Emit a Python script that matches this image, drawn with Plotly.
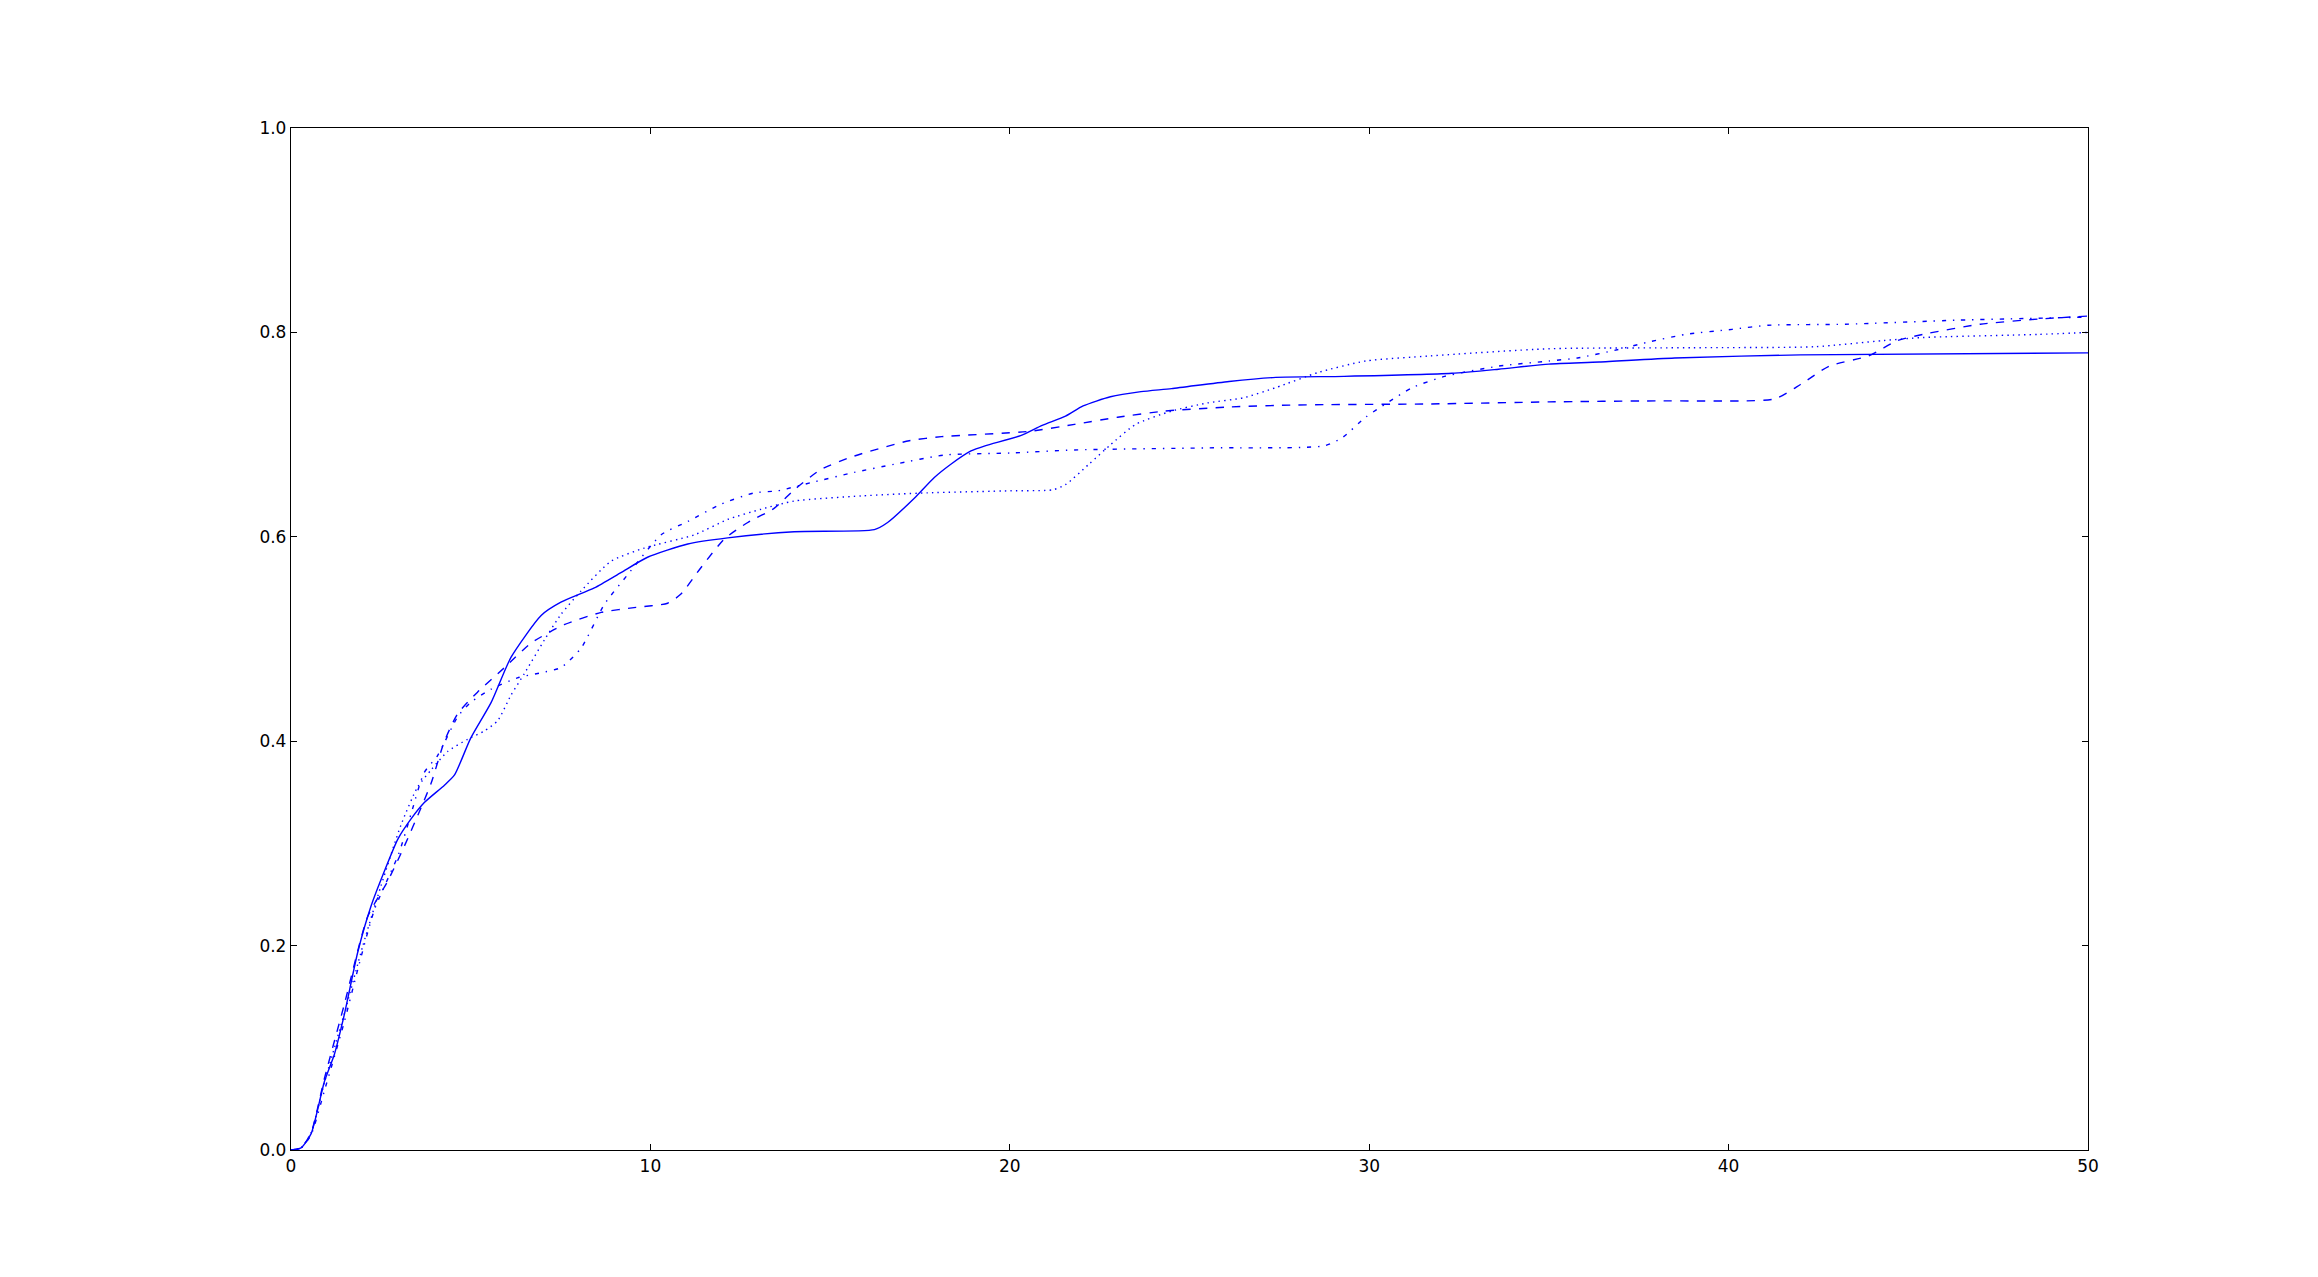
import plotly.graph_objects as go

# Series 1 (solid)
t_solid = [0, 0.28, 0.56, 0.93, 1.21, 1.48, 1.86, 2.23, 2.6, 2.97, 3.34, 3.71, 4.27, 4.55, 5.0, 5.57, 6.12,
           6.96, 7.51, 8.44, 9.18, 9.92, 11.04, 12.15, 14.0, 16.23, 16.6, 17.35, 17.9, 18.36, 18.92, 19.31,
           20.3, 20.9, 21.55, 22.04, 22.8, 23.65, 24.5, 26.1, 27.4, 29.3, 32.3, 33.6, 35.0, 36.4, 38.5,
           42.0, 50.0]
v_solid = [0, 0.002, 0.016, 0.067, 0.094, 0.132, 0.194, 0.239, 0.273, 0.304, 0.324, 0.340, 0.357, 0.367,
           0.403, 0.438, 0.482, 0.523, 0.536, 0.550, 0.565, 0.580, 0.593, 0.599, 0.605, 0.607, 0.614, 0.638,
           0.658, 0.671, 0.684, 0.689, 0.699, 0.709, 0.718, 0.728, 0.737, 0.742, 0.745, 0.752, 0.756, 0.757,
           0.760, 0.764, 0.769, 0.771, 0.775, 0.778, 0.780]

# Series 2 (dashed)
t_dashed = [0, 0.28, 0.56, 0.93, 1.48, 2.13, 2.69, 3.15, 3.62, 3.9, 4.27, 4.64, 5.19, 5.94, 6.68, 7.6, 8.63,
            9.6, 10.48, 10.85, 11.41, 12.06, 12.71, 13.45, 14.0, 14.75, 15.67, 17.2, 18.1, 20.5, 21.8, 23.0,
            24.3, 26.1, 28.0, 31.7, 35.0, 38.0, 40.5, 41.3, 42.0, 42.8, 43.9, 44.7, 45.4, 47.0, 48.6, 50.0]
v_dashed = [0, 0.002, 0.017, 0.07, 0.142, 0.228, 0.263, 0.297, 0.335, 0.359, 0.400, 0.427, 0.448, 0.472,
            0.496, 0.514, 0.526, 0.531, 0.535, 0.544, 0.570, 0.598, 0.614, 0.628, 0.646, 0.666, 0.679, 0.694,
            0.698, 0.703, 0.710, 0.717, 0.723, 0.727, 0.729, 0.730, 0.732, 0.733, 0.733, 0.735, 0.749, 0.767,
            0.777, 0.792, 0.798, 0.808, 0.813, 0.816]

# Series 3 (dotted)
t_dotted = [0, 0.28, 0.56, 0.93, 1.48, 2.0, 2.5, 3.06, 3.52, 3.9, 4.36, 4.92, 5.38, 5.75, 6.12, 6.49, 7.05,
            7.51, 8.07, 8.9, 9.83, 11.23, 12.15, 13.08, 14.0, 15.86, 17.71, 20.03, 21.2, 21.55, 22.2, 22.8,
            23.5, 24.5, 25.5, 26.5, 27.4, 28.6, 29.9, 31.7, 35.0, 39.0, 42.4, 44.3, 45.4, 48.6, 50.0]
v_dotted = [0, 0.002, 0.017, 0.066, 0.133, 0.2, 0.258, 0.318, 0.355, 0.372, 0.390, 0.402, 0.410, 0.420,
            0.445, 0.466, 0.499, 0.524, 0.547, 0.576, 0.589, 0.602, 0.617, 0.627, 0.635, 0.640, 0.643, 0.645,
            0.646, 0.651, 0.671, 0.690, 0.710, 0.723, 0.731, 0.736, 0.746, 0.761, 0.772, 0.777, 0.784, 0.785,
            0.786, 0.792, 0.795, 0.798, 0.800]

# Series 4 (dash-dot)
t_dashdot = [0, 0.28, 0.56, 0.93, 1.48, 1.86, 2.32, 3.0, 3.35, 3.7, 4.08, 4.64, 5.0, 5.57, 6.3, 6.96, 7.51,
             8.07, 8.72, 9.37, 10.3, 11.04, 11.97, 12.89, 13.54, 14.47, 15.67, 16.79, 18.18, 20.03, 21.8, 25.5,
             28.75, 29.25, 29.9, 30.5, 31.2, 32.1, 33.6, 35.0, 35.8, 36.9, 37.7, 38.8, 40.1, 41.1, 43.25,
             46.4, 50.0]
v_dashdot = [0, 0.002, 0.015, 0.058, 0.125, 0.177, 0.235, 0.29, 0.33, 0.369, 0.386, 0.424, 0.438, 0.451,
             0.462, 0.467, 0.472, 0.491, 0.534, 0.563, 0.602, 0.615, 0.632, 0.643, 0.645, 0.653, 0.663, 0.671,
             0.680, 0.682, 0.685, 0.687, 0.689, 0.697, 0.717, 0.731, 0.746, 0.757, 0.767, 0.772, 0.775, 0.783,
             0.790, 0.798, 0.803, 0.807, 0.808, 0.812, 0.815]

x_ticks = [0, 10, 20, 30, 40, 50]
x_tick_labels = ["0", "10", "20", "30", "40", "50"]
y_ticks = [0.0, 0.2, 0.4, 0.6, 0.8, 1.0]
y_tick_labels = ["0.0", "0.2", "0.4", "0.6", "0.8", "1.0"]

BLUE = "#0000ff"
series = [
    (t_solid, v_solid, "solid"),
    (t_dashed, v_dashed, "8.3px,8.3px"),
    (t_dotted, v_dotted, "1.4px,4.2px"),
    (t_dashdot, v_dashdot, "4.2px,6.9px,1.4px,6.9px"),
]

fig = go.Figure()
for t, v, dash in series:
    fig.add_trace(go.Scatter(
        x=t, y=v, mode="lines",
        line=dict(color=BLUE, width=1.4, dash=dash, shape="spline", smoothing=0.6),
        showlegend=False, hoverinfo="skip",
    ))

axis_common = dict(
    showline=True, linecolor="black", linewidth=1.3, mirror="allticks",
    ticks="inside", ticklen=6, tickwidth=1, tickcolor="black",
    showgrid=False, zeroline=False,
    tickfont=dict(family="DejaVu Sans", size=17, color="black"),
)

fig.update_layout(
    width=2318, height=1277,
    margin=dict(l=283, r=238, t=120, b=135),
    paper_bgcolor="white", plot_bgcolor="white",
    xaxis=dict(range=[0, 50], tickvals=x_ticks, ticktext=x_tick_labels, **axis_common),
    yaxis=dict(range=[0, 1], tickvals=y_ticks, ticktext=y_tick_labels, **axis_common),
)

fig.write_html("out.html")
